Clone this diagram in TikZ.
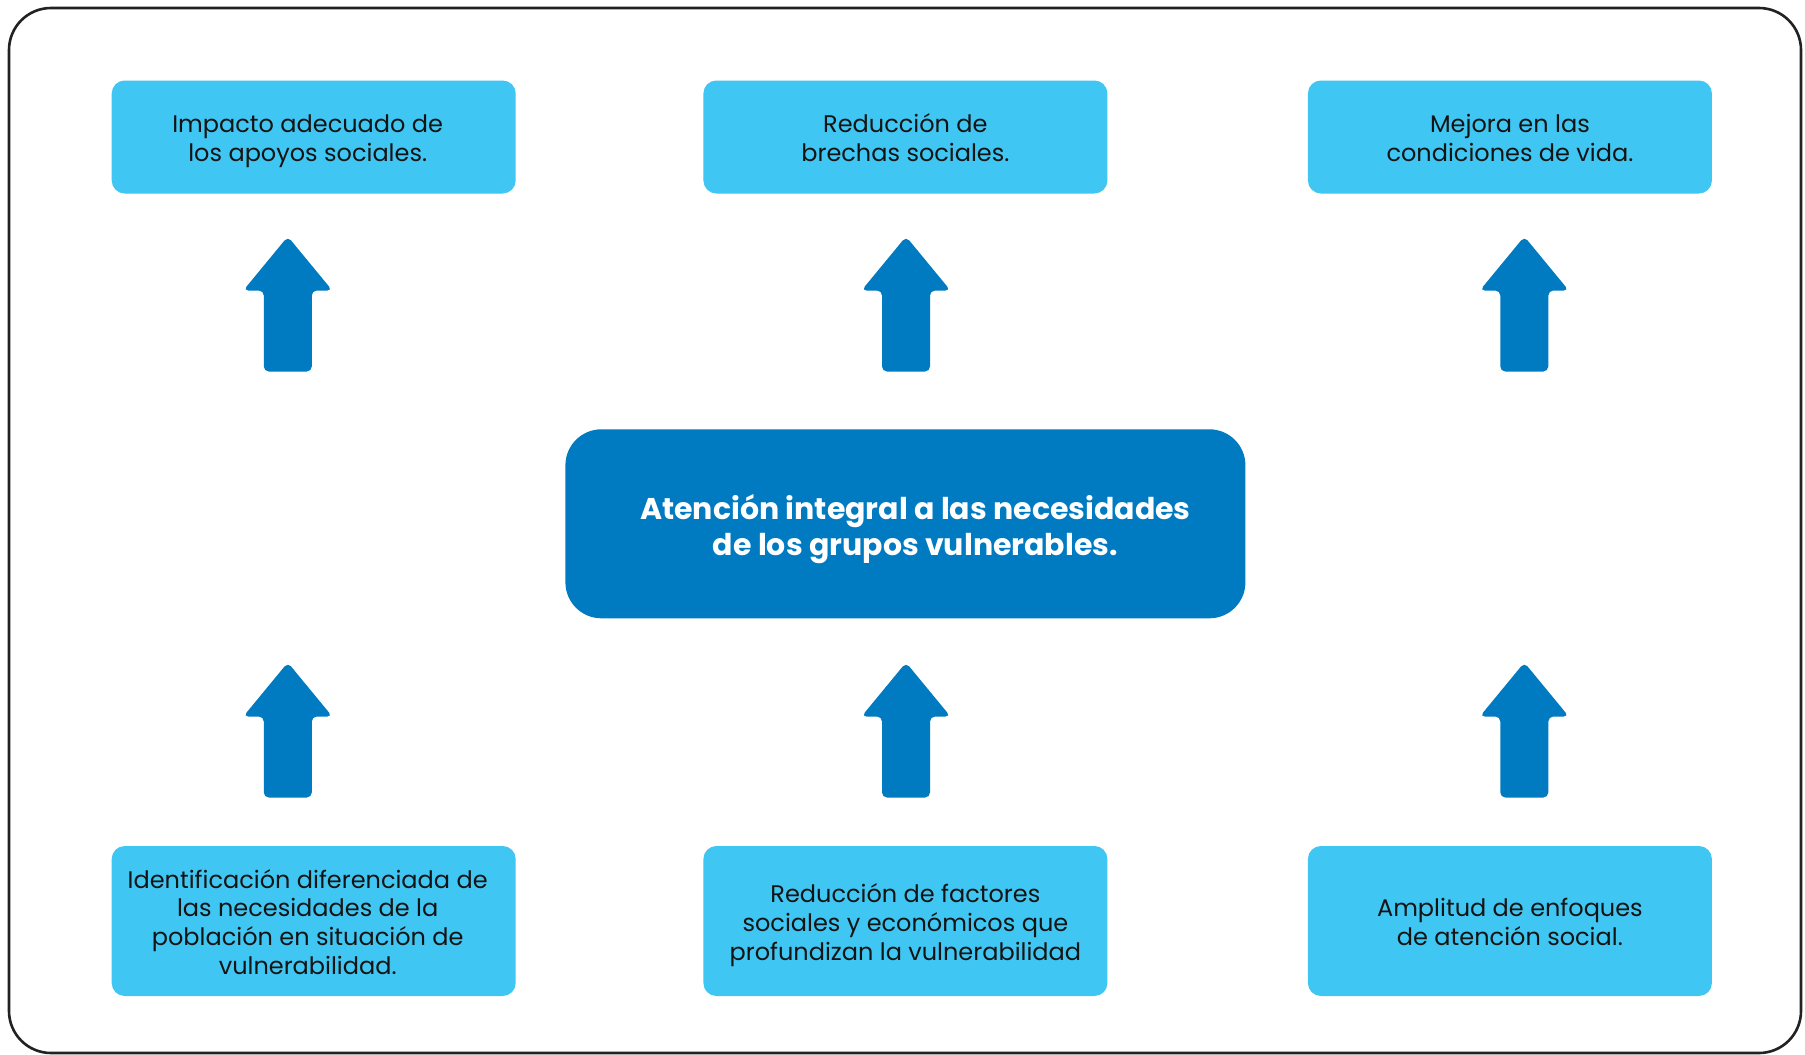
\documentclass[tikz,border=0pt]{standalone}
\usepackage{fontspec}
\setmainfont{Poppins}
\definecolor{lightbox}{RGB}{64,198,242}
\definecolor{darkblue}{RGB}{0,122,193}
\definecolor{framecol}{RGB}{34,34,34}
\newcommand\lft{\hspace*{-12pt}}
\newcommand\rgt{\hspace*{20pt}}
\newcommand\tstrut{\rule{0pt}{29.4pt}}
\newcommand\ctstrut{\rule{0pt}{37.5pt}}
\tikzset{
  smallbox/.style={fill=lightbox, rounded corners=13, minimum width=404, minimum height=113, inner sep=0, align=center, text=black!92, font=\fontsize{24}{28.8}\selectfont},
  tallbox/.style={smallbox, minimum height=150},
  mainbox/.style={fill=darkblue, rounded corners=36, minimum width=680, minimum height=189, inner sep=0, align=center, text=white, font=\fontsize{30}{35.7}\selectfont\bfseries},
  blockarrow/.pic={\fill[darkblue, rounded corners=5] (0,0) -- (44.5,54) -- (24,54) -- (24,135) -- (-24,135) -- (-24,54) -- (-44.5,54) -- cycle;}
}
\begin{document}
\begin{tikzpicture}[x=1pt,y=-1pt]
\useasboundingbox (0,0) rectangle (1805,1055);
\fill[white] (0,0) rectangle (1805,1055);
\draw[framecol, line width=2.6, rounded corners=42] (9,8) rectangle (1801,1053);
% top boxes
\node[smallbox] (t1) at (313.7,137) {\tstrut\lft Impacto adecuado de\\\strut\lft los apoyos sociales.};
\node[smallbox] (t2) at (905.4,137) {\tstrut Reducción de\\\strut brechas sociales.};
\node[smallbox] (t3) at (1509.9,137) {\tstrut Mejora en las\\\strut condiciones de vida.};
% center
\node[mainbox] (c) at (905.4,523.8) {\ctstrut\rgt Atención integral a las necesidades\\\strut\rgt de los grupos vulnerables.};
% bottom boxes
\node[tallbox] (b1) at (313.7,921) {\tstrut\lft Identificación diferenciada de\\\lft las necesidades de la\\\lft población en situación de\\\strut\lft vulnerabilidad.};
\node[tallbox] (b2) at (905.4,921) {\tstrut Reducción de factores\\sociales y económicos que\\\strut profundizan la vulnerabilidad};
\node[tallbox] (b3) at (1509.9,921) {\tstrut Amplitud de enfoques\\\strut de atención social.};
% arrows
\coordinate (ua1) at (287.8,236.5);
\coordinate (ua2) at (906.0,236.5);
\coordinate (ua3) at (1524.3,236.5);
\coordinate (la1) at (287.8,662.5);
\coordinate (la2) at (906.0,662.5);
\coordinate (la3) at (1524.3,662.5);
\foreach \a in {ua1,ua2,ua3,la1,la2,la3} {\pic at (\a) {blockarrow};}
\end{tikzpicture}
\end{document}
